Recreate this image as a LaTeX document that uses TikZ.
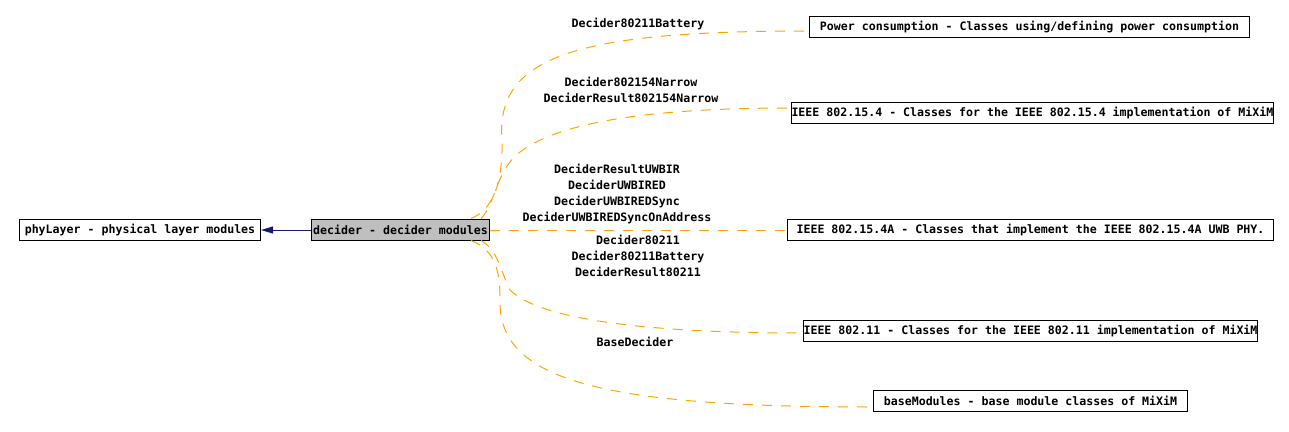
\documentclass[tikz,border=0pt]{standalone}
\usepackage{fontspec}
\setmonofont{DejaVu Sans Mono}
\usepackage{tikz}
\usetikzlibrary{arrows.meta,positioning,calc}
\definecolor{cUse}{HTML}{FFA500}
\definecolor{cParent}{HTML}{191970}
\definecolor{cSel}{HTML}{BFBFBF}
\newcommand{\grpfont}{\ttfamily\bfseries\fontsize{11.6}{16}\selectfont}
\tikzset{
  grp/.style={draw=black, line width=1pt, fill=white, text=black, font=\grpfont,
              inner xsep=3pt, inner ysep=0pt, minimum height=21pt, anchor=west},
  use/.style={draw=cUse, line width=1pt, dash pattern=on 10pt off 9pt},
  parent/.style={-{Triangle[length=12pt,width=7pt]}, line width=1pt, draw=cParent},
  cls/.style={font=\grpfont, align=center, text=black, inner sep=0pt},
}

\begin{document}
\begin{tikzpicture}[x=1pt, y=-1pt]
  \useasboundingbox (0,0) rectangle (1289,431);
  % groups
  \node[grp, minimum width=241pt] (phy) at (19,229.5) {phyLayer - physical layer modules};
  \node[grp, fill=cSel, inner xsep=1pt, minimum width=178pt] (decider) at (311,229.5) {decider - decider modules};
  \node[grp, minimum width=440pt] (power) at (809,27) {Power consumption - Classes using/defining power consumption};
  \node[grp, inner xsep=0pt, minimum width=478pt] (ieee154) at (791,112.5) {IEEE 802.15.4 - Classes for the IEEE 802.15.4 implementation of MiXiM};
  \node[grp, minimum width=486pt] (ieee154a) at (787,229.5) {IEEE 802.15.4A - Classes that implement the IEEE 802.15.4A UWB PHY.};
  \node[grp, inner xsep=0pt, minimum width=454pt] (ieee11) at (803,331) {IEEE 802.11 - Classes for the IEEE 802.11 implementation of MiXiM};
  \node[grp, minimum width=314pt] (basemod) at (873,400.5) {baseModules - base module classes of MiXiM};
  % classes shared with the other groups
  \node[cls] (lpower) at (638,24) {Decider80211Battery};
  \node[cls] (l154) at (631,90) {Decider802154Narrow\\DeciderResult802154Narrow};
  \node[cls] (l154a) at (617,194) {DeciderResultUWBIR\\DeciderUWBIRED\\DeciderUWBIREDSync\\DeciderUWBIREDSyncOnAddress};
  \node[cls] (l11) at (638,256) {Decider80211\\Decider80211Battery\\DeciderResult80211};
  \node[cls] (lbase) at (635,342) {BaseDecider};
  % connectors
  \draw[parent] ([yshift=-0.5pt]decider.west) -- ([yshift=-0.5pt]phy.east);
  \draw[use] ([xshift=-19pt]decider.north east) .. controls (492,210) and (503,185) .. (502,140)
    .. controls (495,55) and (580,31) .. ([yshift=-4pt]power.west);
  \draw[use] ([xshift=-9pt]decider.north east) .. controls (495,205) and (496,170) .. (520,152)
    .. controls (560,122) and (650,108) .. ([yshift=4.5pt]ieee154.west);
  \draw[use] ([yshift=-0.5pt]decider.east) -- ([yshift=-0.5pt]ieee154a.west);
  \draw[use] ([xshift=-9pt]decider.south east) .. controls (498,250) and (500,270) .. (510,290)
    .. controls (540,320) and (650,333) .. ([yshift=-2pt]ieee11.west);
  \draw[use] ([xshift=-19pt]decider.south east) .. controls (495,250) and (500,270) .. (500,300)
    .. controls (498,380) and (600,407) .. ([yshift=-6.5pt]basemod.west);
\end{tikzpicture}
\end{document}
